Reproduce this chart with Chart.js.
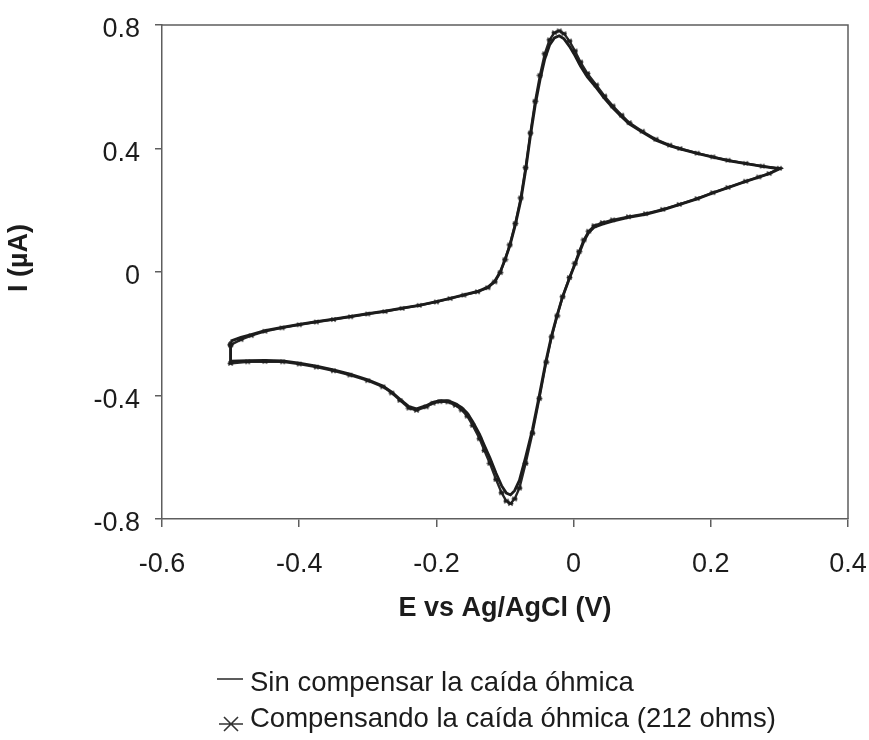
<!DOCTYPE html>
<html>
<head>
<meta charset="utf-8">
<title>Voltamperometría cíclica</title>
<script src="https://cdn.jsdelivr.net/npm/chart.js@4.4.1/dist/chart.umd.min.js"></script>
<style>
  html, body { margin: 0; padding: 0; background: #ffffff; }
  canvas { display: block; }
</style>
</head>
<body>
<canvas id="cv" width="869" height="740"></canvas>
<script>
// Potencial (V vs Ag/AgCl): barrido anódico de -0.5 a 0.3 V y regreso a -0.5 V
const potencial = [
  -0.500, -0.485, -0.470, -0.450, -0.425, -0.400, -0.375, -0.350, -0.325, -0.300,
  -0.275, -0.250, -0.225, -0.200, -0.180, -0.160, -0.140, -0.125, -0.115, -0.107,
  -0.100, -0.093, -0.085, -0.077, -0.070, -0.063, -0.056, -0.049, -0.042, -0.035,
  -0.028, -0.021, -0.014, -0.006, 0.002, 0.010, 0.020, 0.033, 0.045, 0.057,
  0.070, 0.081, 0.100, 0.120, 0.140, 0.155, 0.180, 0.203, 0.225, 0.251,
  0.275, 0.300,
  0.285, 0.270, 0.251, 0.225, 0.203, 0.180, 0.154, 0.130, 0.105, 0.080,
  0.057, 0.042, 0.030, 0.022, 0.015, 0.008, 0.002, -0.006, -0.016, -0.024,
  -0.032, -0.040, -0.050, -0.060, -0.070, -0.079, -0.086, -0.092, -0.098, -0.105,
  -0.113, -0.122, -0.130, -0.137, -0.147, -0.155, -0.163, -0.172, -0.183, -0.195,
  -0.205, -0.215, -0.229, -0.240, -0.253, -0.265, -0.278, -0.300, -0.326, -0.350,
  -0.375, -0.400, -0.424, -0.450, -0.475, -0.500, -0.500
];

// Corriente (µA) sin compensar la caída óhmica
const corrienteSinCompensar = [
  -0.224, -0.212, -0.203, -0.190, -0.179, -0.170, -0.161, -0.153, -0.144, -0.135,
  -0.127, -0.117, -0.108, -0.096, -0.085, -0.074, -0.063, -0.049, -0.030, 0.000,
  0.040, 0.085, 0.152, 0.232, 0.328, 0.440, 0.540, 0.622, 0.690, 0.735,
  0.758, 0.765, 0.755, 0.731, 0.701, 0.667, 0.632, 0.597, 0.562, 0.532,
  0.503, 0.480, 0.453, 0.427, 0.409, 0.399, 0.384, 0.372, 0.361, 0.351,
  0.342, 0.334,
  0.318, 0.307, 0.293, 0.273, 0.256, 0.237, 0.218, 0.201, 0.187, 0.177,
  0.165, 0.155, 0.145, 0.128, 0.100, 0.060, 0.025, -0.020, -0.080, -0.140,
  -0.205, -0.285, -0.400, -0.510, -0.600, -0.675, -0.708, -0.722, -0.716, -0.692,
  -0.652, -0.602, -0.562, -0.526, -0.485, -0.457, -0.439, -0.427, -0.417, -0.417,
  -0.422, -0.433, -0.443, -0.436, -0.412, -0.389, -0.369, -0.349, -0.331, -0.317,
  -0.305, -0.295, -0.288, -0.286, -0.287, -0.289, -0.224
];

// Corriente (µA) compensando la caída óhmica (212 ohms)
const corrienteCompensada = [
  -0.236, -0.219, -0.206, -0.192, -0.181, -0.171, -0.162, -0.154, -0.145, -0.136,
  -0.128, -0.118, -0.108, -0.097, -0.086, -0.075, -0.064, -0.051, -0.032, -0.002,
  0.040, 0.088, 0.157, 0.240, 0.338, 0.450, 0.553, 0.637, 0.707, 0.752,
  0.775, 0.781, 0.772, 0.748, 0.716, 0.680, 0.643, 0.606, 0.570, 0.538,
  0.508, 0.484, 0.456, 0.430, 0.411, 0.400, 0.385, 0.373, 0.362, 0.352,
  0.343, 0.336,
  0.319, 0.308, 0.294, 0.274, 0.257, 0.238, 0.219, 0.203, 0.189, 0.179,
  0.169, 0.160, 0.150, 0.132, 0.104, 0.066, 0.028, -0.018, -0.080, -0.142,
  -0.210, -0.292, -0.410, -0.522, -0.620, -0.700, -0.735, -0.750, -0.742, -0.715,
  -0.672, -0.620, -0.578, -0.540, -0.497, -0.467, -0.447, -0.432, -0.421, -0.420,
  -0.425, -0.437, -0.448, -0.441, -0.416, -0.392, -0.372, -0.352, -0.334, -0.320,
  -0.308, -0.298, -0.291, -0.290, -0.291, -0.296, -0.236
];

const etiquetasSerie = [
  'Sin compensar la caída óhmica',
  'Compensando la caída óhmica (212 ohms)'
];

const ticksE = [-0.6, -0.4, -0.2, 0, 0.2, 0.4];
const ticksI = [-0.8, -0.4, 0, 0.4, 0.8];

const tituloX = 'E vs Ag/AgCl (V)';
const tituloY = 'I (\u00B5A)';

const FUENTE = "'Liberation Sans', Arial, Helvetica, sans-serif";
const TINTA = '#1c1c1c';
const EJE = '#5e5e5e';

Chart.defaults.font.family = FUENTE;

// Marcador tipo asterisco: línea horizontal cruzada por una X
function crearMarcador(tam, grosor, color) {
  const c = document.createElement('canvas');
  c.width = tam; c.height = tam;
  const g = c.getContext('2d');
  g.strokeStyle = color;
  g.lineWidth = grosor;
  const m = tam / 2, r = tam / 2 - grosor / 2;
  g.beginPath();
  g.moveTo(m - r, m); g.lineTo(m + r, m);
  g.moveTo(m - r * 0.72, m - r * 0.72); g.lineTo(m + r * 0.72, m + r * 0.72);
  g.moveTo(m - r * 0.72, m + r * 0.72); g.lineTo(m + r * 0.72, m - r * 0.72);
  g.stroke();
  return c;
}
const marcadorSerie = crearMarcador(7, 1.3, TINTA);

const puntos = (ys) => potencial.map((e, k) => ({ x: e, y: ys[k] }));

const fmt = (v) => {
  const r = Math.round(v * 10) / 10;
  return r === 0 ? '0' : String(r);
};

// Recuadro superior y derecho del área de trazado
const recuadro = {
  id: 'recuadro',
  beforeDatasetsDraw(chart) {
    const { ctx, chartArea: a } = chart;
    ctx.save();
    ctx.strokeStyle = EJE;
    ctx.lineWidth = 1.5;
    ctx.beginPath();
    ctx.moveTo(a.left, a.top);
    ctx.lineTo(a.right, a.top);
    ctx.lineTo(a.right, a.bottom);
    ctx.stroke();
    ctx.restore();
  }
};

// Título del eje de corriente
const tituloEjeY = {
  id: 'tituloEjeY',
  afterDraw(chart) {
    const { ctx } = chart;
    ctx.save();
    ctx.translate(20, 258);
    ctx.rotate(-Math.PI / 2);
    ctx.font = "bold 27px " + FUENTE;
    ctx.fillStyle = TINTA;
    ctx.textAlign = 'center';
    ctx.textBaseline = 'middle';
    ctx.fillText(tituloY, 0, 0);
    ctx.restore();
  }
};

// Leyenda apilada bajo el eje de potencial
const leyenda = {
  id: 'leyenda',
  afterDraw(chart) {
    const { ctx } = chart;
    const x0 = 217, xTexto = 250, filas = [682, 718];
    ctx.save();
    ctx.font = "27.5px " + FUENTE;
    ctx.fillStyle = TINTA;
    ctx.textAlign = 'left';
    ctx.textBaseline = 'middle';
    chart.data.datasets.forEach((ds, k) => {
      const y = filas[k];
      ctx.strokeStyle = '#333';
      ctx.lineWidth = 1.6;
      ctx.beginPath();
      if (k === 0) {
        ctx.moveTo(x0, y - 3); ctx.lineTo(x0 + 26, y - 3);
      } else {
        const cx = x0 + 14, cy = y + 6;
        ctx.moveTo(cx - 12, cy); ctx.lineTo(cx + 12, cy);
        ctx.moveTo(cx - 7, cy - 7); ctx.lineTo(cx + 7, cy + 7);
        ctx.moveTo(cx - 7, cy + 7); ctx.lineTo(cx + 7, cy - 7);
      }
      ctx.stroke();
      ctx.fillText(ds.label, xTexto, y + 1);
    });
    ctx.restore();
  }
};

new Chart(document.getElementById('cv'), {
  type: 'scatter',
  data: {
    datasets: [
      {
        label: etiquetasSerie[0],
        data: puntos(corrienteSinCompensar),
        showLine: true,
        borderColor: TINTA,
        borderWidth: 2.8,
        pointRadius: 0,
        tension: 0
      },
      {
        label: etiquetasSerie[1],
        data: puntos(corrienteCompensada),
        showLine: true,
        borderColor: '#262626',
        borderWidth: 2.4,
        pointStyle: marcadorSerie,
        pointRadius: 3,
        tension: 0
      }
    ]
  },
  options: {
    responsive: false,
    animation: false,
    events: [],
    layout: { padding: { left: 0, top: 25, right: 21, bottom: 111 } },
    plugins: {
      legend: { display: false },
      tooltip: { enabled: false }
    },
    scales: {
      x: {
        type: 'linear',
        min: -0.6,
        max: 0.4,
        afterBuildTicks: (s) => { s.ticks = ticksE.map(v => ({ value: v })); },
        afterFit: (s) => { s.height = 110; s.paddingLeft = 0; s.paddingRight = 0; },
        ticks: {
          callback: (v) => fmt(v),
          font: { size: 27 },
          color: TINTA,
          padding: 21,
          maxRotation: 0,
          autoSkip: false
        },
        grid: { drawOnChartArea: false, drawTicks: true, tickLength: 8, color: EJE, lineWidth: 1.5 },
        border: { display: true, color: EJE, width: 1.5 },
        title: {
          display: true,
          text: tituloX,
          font: { size: 27, weight: 'bold' },
          color: TINTA,
          padding: { top: 4, bottom: 4 }
        }
      },
      y: {
        type: 'linear',
        min: -0.8,
        max: 0.8,
        afterBuildTicks: (s) => { s.ticks = ticksI.map(v => ({ value: v })); },
        afterFit: (s) => { s.width = 162; s.paddingTop = 0; s.paddingBottom = 0; },
        ticks: {
          callback: (v) => fmt(v),
          font: { size: 27 },
          color: TINTA,
          padding: 15,
          labelOffset: 5,
          autoSkip: false
        },
        grid: { drawOnChartArea: false, drawTicks: true, tickLength: 7, color: EJE, lineWidth: 1.5 },
        border: { display: true, color: EJE, width: 1.5 }
      }
    }
  },
  plugins: [recuadro, tituloEjeY, leyenda]
});
</script>
</body>
</html>
